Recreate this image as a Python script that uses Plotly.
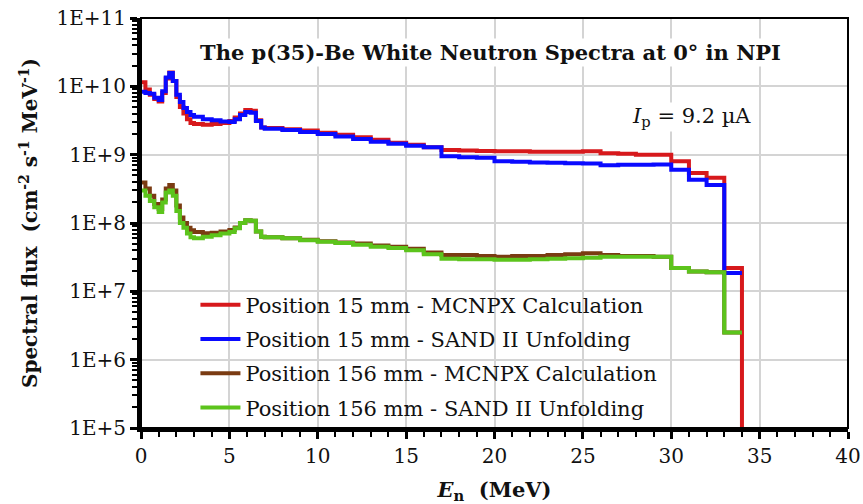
import plotly.graph_objects as go

# ---------------- data ----------------
energy = [0, 0.25, 0.5, 0.75, 1.0, 1.2, 1.4, 1.6, 1.8, 2.0, 2.2, 2.4, 2.6, 2.8, 3.0, 3.5,
          4.0, 4.5, 5.0, 5.3, 5.6, 5.9, 6.2, 6.5, 6.8, 7.0, 8, 9, 10, 11, 12, 13, 14, 15,
          16, 17, 18, 19, 20, 21, 22, 23, 24, 25, 26, 27, 28, 29, 30, 31, 32, 33, 34]

red_15_mcnpx = [1.15e10, 9e9, 7.5e9, 6.5e9, 6e9, 8e9, 1.3e10, 1.6e10, 1.2e10, 7e9, 5e9, 4e9,
                3.3e9, 2.9e9, 2.8e9, 2.75e9, 2.8e9, 2.9e9, 3.1e9, 3.5e9, 4.0e9, 4.5e9, 4.4e9,
                3.2e9, 2.5e9, 2.45e9, 2.35e9, 2.25e9, 2.1e9, 1.95e9, 1.8e9, 1.65e9, 1.5e9,
                1.4e9, 1.28e9, 1.17e9, 1.15e9, 1.13e9, 1.12e9, 1.12e9, 1.1e9, 1.1e9, 1.1e9,
                1.12e9, 1.05e9, 1.03e9, 1.0e9, 1.0e9, 8.0e8, 5.4e8, 4.6e8, 2.2e7, 1e3]

blue_15_sand = [8.3e9, 8e9, 7.8e9, 6.8e9, 6.3e9, 8.5e9, 1.35e10, 1.57e10, 1.2e10, 7.5e9, 5.9e9,
                4.8e9, 4.2e9, 3.8e9, 3.6e9, 3.3e9, 3.2e9, 3.05e9, 3.0e9, 3.3e9, 3.8e9, 4.2e9,
                4.1e9, 3.1e9, 2.5e9, 2.4e9, 2.3e9, 2.15e9, 2.0e9, 1.85e9, 1.7e9, 1.55e9,
                1.45e9, 1.35e9, 1.28e9, 9.5e8, 9.2e8, 9.0e8, 8.0e8, 7.9e8, 7.7e8, 7.6e8,
                7.5e8, 7.4e8, 7.0e8, 7.1e8, 7.1e8, 7.2e8, 6.0e8, 4.3e8, 3.6e8, 1.85e7, 1.85e7]

brown_156_mcnpx = [3.9e8, 3.2e8, 2.5e8, 1.9e8, 1.6e8, 2.2e8, 3.2e8, 3.6e8, 3.0e8, 1.8e8, 1.2e8,
                   1.0e8, 8.5e7, 7.8e7, 7.4e7, 7.1e7, 7.2e7, 7.5e7, 7.9e7, 8.6e7, 1.0e8, 1.1e8,
                   1.08e8, 7.5e7, 6.3e7, 6.2e7, 6.0e7, 5.7e7, 5.4e7, 5.2e7, 5.0e7, 4.7e7, 4.5e7,
                   4.2e7, 3.7e7, 3.4e7, 3.4e7, 3.3e7, 3.2e7, 3.3e7, 3.3e7, 3.4e7, 3.5e7, 3.6e7,
                   3.4e7, 3.3e7, 3.3e7, 3.2e7, 2.2e7, 1.95e7, 1.9e7, 2.5e6, 2.5e6]

green_156_sand = [3.0e8, 2.5e8, 2.1e8, 1.7e8, 1.45e8, 2.0e8, 2.8e8, 3.0e8, 2.5e8, 1.5e8, 1.0e8,
                  8.5e7, 7.0e7, 6.2e7, 6.0e7, 6.3e7, 6.6e7, 7.0e7, 7.4e7, 8.4e7, 1.0e8, 1.1e8,
                  1.08e8, 7.5e7, 6.3e7, 6.2e7, 6.0e7, 5.6e7, 5.3e7, 5.1e7, 4.8e7, 4.5e7, 4.3e7,
                  4.0e7, 3.5e7, 3.0e7, 2.95e7, 2.95e7, 2.9e7, 2.9e7, 2.95e7, 3.0e7, 3.05e7,
                  3.1e7, 3.2e7, 3.2e7, 3.2e7, 3.2e7, 2.2e7, 1.95e7, 1.9e7, 2.5e6, 2.5e6]

series_names = ["Position 15 mm - MCNPX Calculation",
                "Position 15 mm - SAND II Unfolding",
                "Position 156 mm - MCNPX Calculation",
                "Position 156 mm - SAND II Unfolding"]
series_values = [red_15_mcnpx, blue_15_sand, brown_156_mcnpx, green_156_sand]
series_colors = ["#d7191c", "#0a0aff", "#7a3b12", "#5cc41c"]

y_tickvals = [1e5, 1e6, 1e7, 1e8, 1e9, 1e10, 1e11]
y_ticktext = ["1E+5", "1E+6", "1E+7", "1E+8", "1E+9", "1E+10", "1E+11"]
y_minor_vals = [m * 10 ** d for d in range(5, 11) for m in range(2, 10)]

FONT = "DejaVu Serif"

fig = go.Figure()
for i, (name, vals, col) in enumerate(zip(series_names, series_values, series_colors)):
    fig.add_trace(go.Scatter(x=energy, y=vals, mode="lines", name=name,
                             line=dict(color=col, width=4, shape="hv"),
                             legendgroup=f"g{i}"))

fig.update_layout(
    width=863, height=504,
    margin=dict(l=141, r=15, t=18, b=76),
    paper_bgcolor="white", plot_bgcolor="white",
    font=dict(family=FONT, color="#111", size=20),
    showlegend=True,
    legend=dict(x=0.077, y=0.35, xanchor="left", yanchor="top",
                bgcolor="rgba(255,255,255,0)", font=dict(family=FONT, size=21, color="#111"),
                tracegroupgap=4, itemwidth=40),
)

fig.update_xaxes(range=[0, 40], dtick=5, tick0=0, automargin=False,
                 showgrid=True, gridcolor="#d4d4d4", gridwidth=2,
                 showline=True, linecolor="black", linewidth=4,
                 ticks="outside", ticklen=7, tickwidth=3, tickcolor="black",
                 minor=dict(dtick=1, ticks="outside", ticklen=5, tickwidth=2,
                            tickcolor="black", showgrid=False),
                 tickfont=dict(family=FONT, size=20),
                 title=dict(text="<b><i>E</i><sub>n</sub>  (MeV)</b>",
                            font=dict(family=FONT, size=21), standoff=18),
                 zeroline=False)

fig.update_yaxes(type="log", range=[5, 11], automargin=False,
                 tickmode="array", tickvals=y_tickvals, ticktext=y_ticktext,
                 showgrid=True, gridcolor="#d4d4d4", gridwidth=2,
                 showline=True, linecolor="black", linewidth=4,
                 ticks="outside", ticklen=7, tickwidth=3, tickcolor="black",
                 minor=dict(tickmode="array", tickvals=y_minor_vals, ticks="outside",
                            ticklen=5, tickwidth=2, tickcolor="black", showgrid=False),
                 tickfont=dict(family=FONT, size=20),
                 title=dict(text="<b>Spectral flux  (cm<sup>-2</sup> s<sup>-1</sup> MeV<sup>-1</sup>)</b>",
                            font=dict(family=FONT, size=20), standoff=14),
                 zeroline=False)

# thin frame on top/right
fig.add_shape(type="rect", xref="paper", yref="paper", x0=0, y0=0, x1=1, y1=1,
              line=dict(color="black", width=2), fillcolor="rgba(0,0,0,0)", layer="above")

fig.add_annotation(xref="paper", yref="paper", x=0.494, y=0.915,
                   text="<b>The p(35)-Be White Neutron Spectra at 0° in NPI</b>",
                   showarrow=False, font=dict(family=FONT, size=21, color="#111"),
                   bgcolor="white", xanchor="center", yanchor="middle")
fig.add_annotation(xref="paper", yref="paper", x=0.779, y=0.758,
                   text="<i>I</i><sub>p</sub> = 9.2 µA",
                   showarrow=False, font=dict(family=FONT, size=21, color="#111"),
                   bgcolor="white", xanchor="center", yanchor="middle")

fig.write_html("out.html")
